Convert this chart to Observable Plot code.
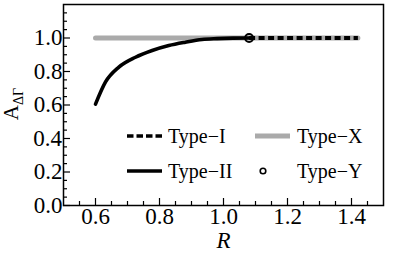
<!DOCTYPE html>
<html><head><meta charset="utf-8">
<script src="https://cdn.jsdelivr.net/npm/d3@7"></script>
<script src="https://cdn.jsdelivr.net/npm/@observablehq/plot@0.6"></script>
<style>
html,body{margin:0;padding:0;background:#fff;}
#chart{position:relative;width:398px;height:266px;font-family:"Liberation Serif";}
</style>
</head><body><div id="chart"></div>
<script>
// Type-II curve
const rII = [0.60, 0.631, 0.673, 0.725, 0.777, 0.829, 0.881, 0.933, 0.98, 1.03, 1.08];
const aII = [0.605, 0.736, 0.826, 0.885, 0.925, 0.955, 0.975, 0.991, 0.996, 0.999, 1.0];
// Type-I (dashed)
const rI = [1.08, 1.42];
const aI = [1.0, 1.0];
// Type-X (gray)
const rX = [0.60, 1.42];
const aX = [1.0, 1.0];
// Type-Y (circle)
const rY = [1.08];
const aY = [1.0];
// ticks
const xMajor = [0.6, 0.8, 1.0, 1.2, 1.4];
const xMinor = [0.55,0.65,0.7,0.75,0.85,0.9,0.95,1.05,1.1,1.15,1.25,1.3,1.35,1.45];
const yMajor = [0.0, 0.2, 0.4, 0.6, 0.8, 1.0];
const yMinor = [0.05,0.1,0.15,0.25,0.3,0.35,0.45,0.5,0.55,0.65,0.7,0.75,0.85,0.9,0.95,1.05,1.1,1.15];
const legendItems = ["Type\u2212I", "Type\u2212X", "Type\u2212II", "Type\u2212Y"];

const zip = (xs, ys) => xs.map((x, i) => ({x, y: ys[i]}));
const font = "Liberation Serif";

const plot = Plot.plot({
  width: 398, height: 266,
  marginLeft: 63, marginRight: 15, marginTop: 4, marginBottom: 61,
  x: {domain: [0.5, 1.5]},
  y: {domain: [0, 1.2]},
  style: {fontSize: "23px", color: "black", background: "white", fontFamily: font},
  marks: [
    Plot.axisX({ticks: xMajor, tickSize: -7, tickPadding: 10.5, tickFormat: d3.format(".1f"), label: null, fontSize: 23, strokeWidth: 1.2}),
    Plot.axisX({ticks: xMinor, tickSize: -4, tickFormat: () => "", label: null, strokeWidth: 1.2}),
    Plot.axisY({ticks: yMajor, tickSize: -7, tickPadding: 5, tickFormat: d3.format(".1f"), label: null, fontSize: 23, strokeWidth: 1.2}),
    Plot.axisY({ticks: yMinor, tickSize: -4, tickFormat: () => "", label: null, strokeWidth: 1.2}),
    Plot.line(zip(rX, aX), {x: "x", y: "y", stroke: "#aaaaaa", strokeWidth: 5}),
    Plot.line(zip(rI, aI), {x: "x", y: "y", stroke: "black", strokeWidth: 4, strokeDasharray: "6,3.5", strokeLinecap: "butt"}),
    Plot.line(zip(rII, aII), {x: "x", y: "y", stroke: "black", strokeWidth: 3.6, curve: "monotone-x"}),
    Plot.dot(zip(rY, aY), {x: "x", y: "y", r: 4, stroke: "black", strokeWidth: 2, fill: "none"}),
    Plot.text(["R"], {frameAnchor: "bottom", lineAnchor: "bottom", dy: 42, fontStyle: "italic", fontSize: 23, fill: "black"}),
    Plot.frame({stroke: "black", strokeWidth: 1.5})
  ]
});
document.getElementById("chart").appendChild(plot);

const svg = d3.select(plot).attr("font-family", font);
// y-axis label A_ΔΓ
const yl = svg.append("text")
  .attr("transform", "translate(18,104) rotate(-90)")
  .attr("text-anchor", "middle")
  .attr("font-size", 21).attr("fill", "black");
yl.append("tspan").text("A");
yl.append("tspan").attr("font-size", 14).attr("dy", 5).text("\u0394\u0393");

// legend
const lg = svg.append("g").attr("font-size", 20).attr("fill", "black").attr("text-anchor", "start");
const rows = [136, 171];
lg.append("line").attr("x1", 127).attr("x2", 162).attr("y1", rows[0]).attr("y2", rows[0])
  .attr("stroke", "black").attr("stroke-width", 3.6).attr("stroke-dasharray", "6.5,3");
lg.append("text").attr("x", 168).attr("y", rows[0]).attr("dy", "0.34em").text(legendItems[0]);
lg.append("line").attr("x1", 255).attr("x2", 290).attr("y1", rows[0]).attr("y2", rows[0])
  .attr("stroke", "#aaaaaa").attr("stroke-width", 5);
lg.append("text").attr("x", 297).attr("y", rows[0]).attr("dy", "0.34em").text(legendItems[1]);
lg.append("line").attr("x1", 127).attr("x2", 162).attr("y1", rows[1]).attr("y2", rows[1])
  .attr("stroke", "black").attr("stroke-width", 3.6);
lg.append("text").attr("x", 168).attr("y", rows[1]).attr("dy", "0.34em").text(legendItems[2]);
lg.append("circle").attr("cx", 263).attr("cy", rows[1]).attr("r", 2.8)
  .attr("stroke", "black").attr("stroke-width", 1.6).attr("fill", "none");
lg.append("text").attr("x", 297).attr("y", rows[1]).attr("dy", "0.34em").text(legendItems[3]);
svg.selectAll("text").attr("font-family", font).style("font-family", font);

// fine-align tick labels (screen coordinates; small corrections only)
const svgRect = plot.getBoundingClientRect();
const shiftText = (node, dx, dy) => {
  if (!isFinite(dx) || !isFinite(dy) || Math.abs(dx) > 8 || Math.abs(dy) > 8) return;
  const t = node.getAttribute("transform") || "";
  node.setAttribute("transform", `translate(${dx},${dy}) ${t}`);
};
svg.selectAll('g[aria-label="x-axis tick label"] text').each(function() {
  if (!this.textContent) return;
  const r = this.getBoundingClientRect();
  const top = r.top - svgRect.top;
  const baseline = top + r.height * 0.891 / 1.107;
  shiftText(this, 0, 224.5 - baseline);
});
svg.selectAll('g[aria-label="y-axis tick label"] text').each(function() {
  if (!this.textContent) return;
  const r = this.getBoundingClientRect();
  shiftText(this, 62.5 - (r.right - svgRect.left), 0);
});
</script>
</body></html>
